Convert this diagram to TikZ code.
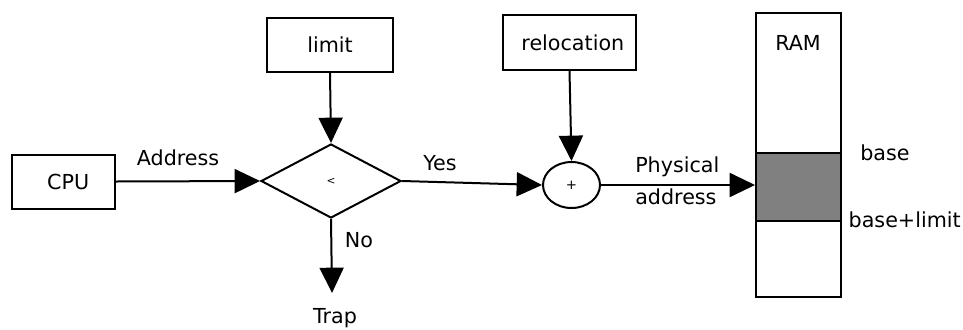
\documentclass[tikz,border=0pt]{standalone}
\usepackage{fontspec}
\setmainfont{DejaVu Sans}
\usetikzlibrary{shapes.geometric,arrows.meta}
\begin{document}
\begin{tikzpicture}[x=0.75pt,y=-0.75pt,
  every node/.style={font=\fontsize{15.5}{18}\selectfont},
  box/.style={draw,line width=1.5pt,inner sep=0pt},
  lbl/.style={inner sep=0pt},
  conn/.style={line width=1.5pt,-{Triangle[length=19pt,width=18pt]}}]
\useasboundingbox (0,0) rectangle (963,329);
\node[box,minimum width=77.25pt,minimum height=40.5pt] (cpu) at (63.5,181.5) {\hspace{7pt}CPU};
\node[box,minimum width=94.5pt,minimum height=40.5pt] (limit) at (330,45) {limit\hspace{13pt}};
\node[box,diamond,aspect=1.9,minimum width=105pt,minimum height=55.5pt] (cmp) at (331,181) {\fontsize{8}{10}\selectfont <};
\node[box,minimum width=99.75pt,minimum height=41.25pt] (reloc) at (569.5,42.5) {\hspace{5pt}relocation};
\node[box,ellipse,minimum width=42.75pt,minimum height=34.5pt] (plus) at (571.5,185) {\fontsize{10}{12}\selectfont +};
\node[box,minimum width=63.75pt,minimum height=213pt] (ram) at (798.5,155) {};
\node[box,fill={rgb,255:red,128;green,128;blue,128},minimum width=63.75pt,minimum height=51pt] (seg) at (798.5,187) {};
\node[lbl] (ramlbl) at (798,43) {RAM};
\node[lbl,anchor=west] (base) at (860,153) {base};
\node[lbl,anchor=east] (baselim) at (961,220) {base+limit};
\coordinate (trapend) at (332,293);
\node[lbl] (trap) at (335,318) {Trap};
\node[lbl] (addr) at (178,158) {Address};
\node[lbl] (no) at (359,240) {No};
\node[lbl] (yes) at (440,163) {Yes};
\node[lbl,align=left,anchor=west,font=\fontsize{15.5}{24}\selectfont] (phys) at (635,181) {Physical\\address};
\draw[conn] (cpu.east) -- (cmp.west);
\draw[conn] (limit.south) -- (cmp.north);
\draw[conn] (cmp.south) -- (trapend);
\draw[conn] (cmp.east) -- (plus.west);
\draw[conn] (reloc.south) -- (plus.north);
\draw[conn] (plus.east) -- (ram.west |- plus.east);
\end{tikzpicture}
\end{document}
